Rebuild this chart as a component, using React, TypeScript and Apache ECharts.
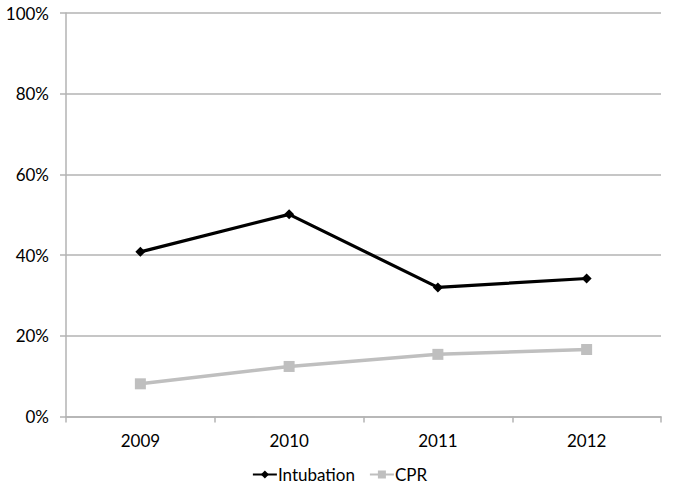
import React, { useEffect, useRef } from "react";
import * as echarts from "echarts";

const years = ["2009", "2010", "2011", "2012"];
const intubation = [40.8, 50.1, 32.0, 34.2];
const cpr = [8.1, 12.4, 15.4, 16.6];
const yTicks = [0, 20, 40, 60, 80, 100];

const FONT = "Lato, 'Open Sans', sans-serif";

export default function App() {
  const ref = useRef<HTMLDivElement>(null);
  useEffect(() => {
    if (!ref.current) return;
    const chart = echarts.init(ref.current, undefined, { renderer: "svg" });
    chart.setOption({
      animation: false,
      backgroundColor: "#ffffff",
      textStyle: { fontFamily: FONT },
      grid: { left: 66, right: 18, top: 13, bottom: 77.5, containLabel: false },
      xAxis: {
        type: "category",
        data: years,
        boundaryGap: true,
        axisLine: { lineStyle: { color: "#b3b3b3", width: 1.5 } },
        axisTick: { show: true, length: 6, lineStyle: { color: "#b3b3b3", width: 1.5 } },
        axisLabel: { color: "#000", fontSize: 17, margin: 15, fontFamily: FONT },
        splitLine: { show: false },
      },
      yAxis: {
        type: "value",
        min: yTicks[0],
        max: yTicks[yTicks.length - 1],
        interval: 20,
        axisLine: { show: true, lineStyle: { color: "#b3b3b3", width: 1.5 } },
        axisTick: { show: true, length: 6, lineStyle: { color: "#b3b3b3", width: 1.5 } },
        axisLabel: { color: "#000", fontSize: 17, margin: 17, formatter: "{value}%", fontFamily: FONT },
        splitLine: { show: true, lineStyle: { color: "#b3b3b3", width: 1.5 } },
      },
      legend: {
        bottom: 6,
        left: "center",
        itemWidth: 24,
        itemHeight: 10,
        itemGap: 14,
        textStyle: { color: "#000", fontSize: 17, fontFamily: FONT, padding: [0, 0, 0, -4] },
        data: ["Intubation", "CPR"],
      },
      series: [
        {
          name: "Intubation",
          type: "line",
          data: intubation,
          symbol: "diamond",
          symbolSize: 10,
          itemStyle: { color: "#000000" },
          lineStyle: { color: "#000000", width: 3.2 },
        },
        {
          name: "CPR",
          type: "line",
          data: cpr,
          symbol: "rect",
          symbolSize: 11,
          itemStyle: { color: "#bfbfbf" },
          lineStyle: { color: "#bfbfbf", width: 3.5 },
        },
      ],
    });
    return () => chart.dispose();
  }, []);
  return (
    <div
      ref={ref}
      style={{ position: "fixed", left: 0, top: 0, width: 679, height: 494 }}
    />
  );
}
